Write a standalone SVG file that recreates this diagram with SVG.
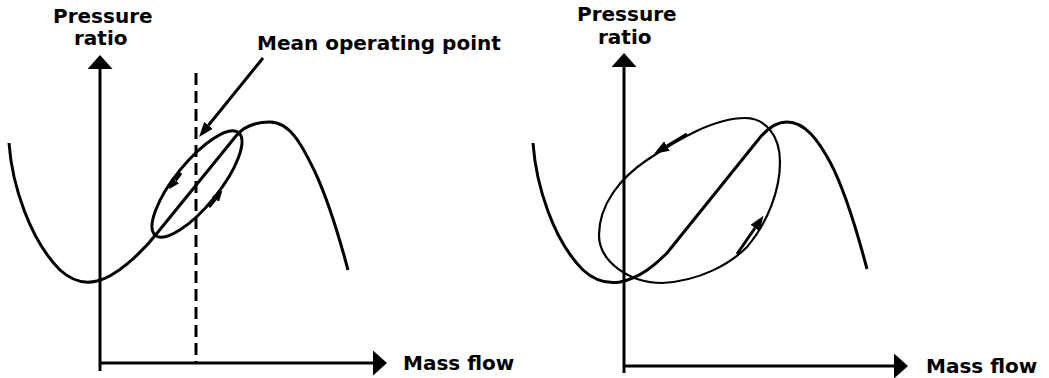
<svg xmlns="http://www.w3.org/2000/svg" width="1049" height="378" viewBox="0 0 1049 378">
<style>
.ln{fill:none;stroke:#000;stroke-width:3;stroke-linecap:butt;stroke-linejoin:round}
.thin{fill:none;stroke:#000;stroke-width:2.2}
.dash{fill:none;stroke:#000;stroke-width:3;stroke-dasharray:12 6}
.lbl{font-family:"DejaVu Sans","Liberation Sans",sans-serif;font-weight:bold;font-size:20px;fill:#000}
</style>
<defs>
<marker id="axh" viewBox="0 0 14 25" refX="0" refY="12.5" markerWidth="14" markerHeight="25" markerUnits="userSpaceOnUse" orient="auto"><path d="M0,0 L14,12.5 L0,25 z" fill="#000"/></marker>
<marker id="ptr" viewBox="0 0 15 11" refX="0" refY="5.5" markerWidth="15" markerHeight="11" markerUnits="userSpaceOnUse" orient="auto"><path d="M0,0 L15,5.5 L0,11 z" fill="#000"/></marker>
<marker id="sm" viewBox="0 0 11 9" refX="0" refY="4.5" markerWidth="11" markerHeight="9" markerUnits="userSpaceOnUse" orient="auto"><path d="M0,0 L11,4.5 L0,9 z" fill="#000"/></marker>
</defs>

<g id="left-chart">
  <g id="left-labels">
    <text class="lbl" x="53" y="23">Pressure</text>
    <text class="lbl" x="74" y="45">ratio</text>
    <text class="lbl" x="403" y="370">Mass flow</text>
    <text class="lbl" x="257" y="50">Mean operating point</text>
  </g>
  <g id="left-curve">
    <path class="ln" d="M9,143 C12,185 30,240 60,270 C72,281 85,284 97,281 C115,277 140,255 158,232 L236,136 C244,126 256,122 270,122 C290,122 302,145 315,172 C328,200 340,240 348,270"/>
    <ellipse class="ln" cx="197" cy="184" rx="66" ry="22" transform="rotate(-51 197 184)"/>
  </g>
  <line id="left-mean-line" class="dash" x1="196" y1="73" x2="196" y2="363"/>
</g>

<g id="right-chart">
  <g id="right-labels">
    <text class="lbl" x="577" y="21">Pressure</text>
    <text class="lbl" x="598" y="44">ratio</text>
    <text class="lbl" x="926" y="373">Mass flow</text>
  </g>
  <g id="right-curve">
    <path class="ln" d="M533,143 C536,185 553,240 583,270 C595,281 608,284 620,282 C640,278 655,265 667,253 L758,140 C765,131 775,122 787,122 C805,122 818,140 830,162 C845,190 858,235 867,269"/>
    <path class="thin" d="M745,118 C765,118 780,135 780,162 C780,190 768,222 747,247 C730,264 700,281 662,283 C630,283 599,262 599,235 C599,205 620,178 647,160 C680,138 715,118 745,118 Z"/>
  </g>
</g>

<g id="connectors">
  <line class="ln" x1="100" y1="371" x2="100" y2="69" marker-end="url(#axh)"/>
  <line class="ln" x1="99" y1="363" x2="373" y2="363" marker-end="url(#axh)"/>
  <line class="ln" x1="624" y1="373" x2="624" y2="67" marker-end="url(#axh)"/>
  <line class="ln" x1="623" y1="366" x2="894" y2="366" marker-end="url(#axh)"/>
  <line class="ln" x1="263" y1="58" x2="208.5" y2="125.3" marker-end="url(#ptr)"/>
  <line class="ln" x1="181" y1="173" x2="175.5" y2="180.5" marker-end="url(#sm)"/>
  <line class="ln" x1="209" y1="207" x2="215.5" y2="199" marker-end="url(#sm)"/>
  <line class="ln" x1="687" y1="134" x2="667" y2="146" marker-end="url(#ptr)"/>
  <line class="ln" x1="737" y1="254" x2="755" y2="228" marker-end="url(#ptr)"/>
</g>
</svg>
